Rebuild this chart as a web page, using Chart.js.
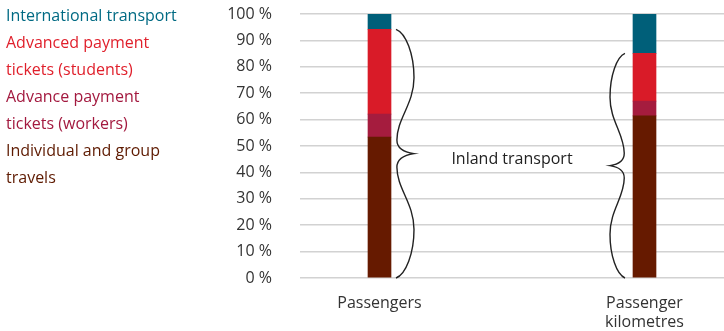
<!DOCTYPE html>
<html>
<head>
<meta charset="utf-8">
<script src="https://cdn.jsdelivr.net/npm/chart.js@4"></script>
<style>
    body { margin: 0; background: #fff; }
    #wrap { position: relative; width: 724px; height: 331px; }
    #legend {
        position: absolute; left: 6px; top: 2px; width: 180px;
        font-family: "Open Sans", sans-serif; font-size: 16px; line-height: 27px;
    }
    #legend div { margin: 0; }
</style>
</head>
<body>
<div id="wrap">
    <canvas id="chart" width="724" height="331"></canvas>
    <div id="legend"></div>
</div>
<script>
// share of each ticket type, per cent
var categories = ["Passengers", ["Passenger", "kilometres"]];
var individualGroup = [53.4, 61.4];
var advanceWorkers = [8.7, 5.6];
var advanceStudents = [32.1, 18.1];
var international = [5.8, 14.9];
var yTicks = [0, 10, 20, 30, 40, 50, 60, 70, 80, 90, 100];

// the two columns sit in slots 1 and 6 of an eight-slot axis
var slotCount = 8;
var slots = [1, 6];

function spread(values, blank) {
    var out = [];
    for (var i = 0; i < slotCount; i++) out.push(blank);
    slots.forEach((s, i) => out[s] = values[i]);
    return out;
}

var series = [
    { label: "Individual and group travels", data: individualGroup, color: "#661a00", text: "#5e1a00" },
    { label: "Advance payment tickets (workers)", data: advanceWorkers, color: "#a51c3e", text: "#a3193f" },
    { label: "Advanced payment tickets (students)", data: advanceStudents, color: "#d91b28", text: "#e01f2b" },
    { label: "International transport", data: international, color: "#005f79", text: "#006a83" }
];

// brace from yTop to yBot, d = 1 opens to the right, -1 to the left
function brace(ctx, xb, yTop, yBot, d, a) {
    var yMid = (yTop + yBot) / 2, h = yMid - yTop;
    ctx.beginPath();
    ctx.moveTo(xb, yTop);
    ctx.bezierCurveTo(xb + d * 0.55 * a, yTop + 0.03 * h, xb + d * a, yTop + 0.2 * h, xb + d * a, yTop + 0.39 * h);
    ctx.bezierCurveTo(xb + d * a, yTop + 0.6 * h, xb + d * 0.05 * a, yTop + 0.72 * h, xb + d * 0.05 * a, yTop + 0.89 * h);
    ctx.bezierCurveTo(xb + d * 0.05 * a, yTop + 0.96 * h, xb + d * 0.5 * a, yMid - 0.01 * h, xb + d * a, yMid);
    ctx.bezierCurveTo(xb + d * 0.5 * a, yMid + 0.01 * h, xb + d * 0.05 * a, yBot - 0.96 * h, xb + d * 0.05 * a, yBot - 0.89 * h);
    ctx.bezierCurveTo(xb + d * 0.05 * a, yBot - 0.72 * h, xb + d * a, yBot - 0.6 * h, xb + d * a, yBot - 0.39 * h);
    ctx.bezierCurveTo(xb + d * a, yBot - 0.2 * h, xb + d * 0.55 * a, yBot - 0.03 * h, xb, yBot);
    ctx.stroke();
    return yMid;
}

var bracePlugin = {
    id: "inlandBraces",
    afterDatasetsDraw(chart) {
        var ctx = chart.ctx;
        var y = chart.scales.y;
        var meta = chart.getDatasetMeta(0);
        var barA = meta.data[slots[0]];
        var barB = meta.data[slots[1]];
        var inland = [0, 1].map(i => individualGroup[i] + advanceWorkers[i] + advanceStudents[i]);
        ctx.save();
        ctx.strokeStyle = "#222";
        ctx.lineWidth = 1.4;
        var xa = barA.x + barA.width / 2 + 5;
        var xb = barB.x - barB.width / 2 - 8;
        var m1 = brace(ctx, xa, y.getPixelForValue(inland[0]), y.getPixelForValue(0), 1, 18);
        var m2 = brace(ctx, xb, y.getPixelForValue(inland[1]), y.getPixelForValue(0), -1, 15);
        ctx.fillStyle = "#222";
        ctx.font = "16px 'Open Sans'";
        ctx.textAlign = "center";
        ctx.textBaseline = "middle";
        ctx.fillText("Inland transport", (xa + 18 + xb - 15) / 2, (m1 + m2) / 2);
        ctx.restore();
    }
};

var labels = spread(categories, "");

var chart = new Chart(document.getElementById("chart"), {
    type: "bar",
    data: {
        labels: labels,
        datasets: series.map(s => ({
            label: s.label,
            data: spread(s.data, null),
            backgroundColor: s.color,
            borderWidth: 0,
            barThickness: 23
        }))
    },
    options: {
        responsive: false,
        animation: false,
        layout: { padding: { top: 14, right: 0, left: 0, bottom: 0 } },
        plugins: { legend: { display: false }, tooltip: { enabled: false } },
        scales: {
            x: {
                stacked: true,
                grid: { display: false },
                border: { display: false },
                ticks: {
                    color: "#333", padding: 8, maxRotation: 0, autoSkip: false,
                    font: { family: "Open Sans", size: 16 }
                },
                afterFit(scale) { scale.height = 53; scale.paddingLeft = 0; scale.paddingRight = 0; }
            },
            y: {
                stacked: true,
                min: 0, max: 100,
                afterBuildTicks(scale) { scale.ticks = yTicks.map(v => ({ value: v })); },
                grid: { color: "#d2d2d2", lineWidth: 1.5, drawTicks: false },
                border: { display: false },
                ticks: {
                    color: "#333", padding: 28,
                    font: { family: "Open Sans", size: 16 },
                    callback: v => v + " %"
                },
                afterFit(scale) { scale.width = 300; scale.paddingTop = 0; scale.paddingBottom = 0; }
            }
        }
    },
    plugins: [bracePlugin]
});

// legend: top segment first
var legend = document.getElementById("legend");
series.slice().reverse().forEach(s => {
    var el = document.createElement("div");
    el.textContent = s.label;
    el.style.color = s.text;
    legend.appendChild(el);
});
</script>
</body>
</html>
